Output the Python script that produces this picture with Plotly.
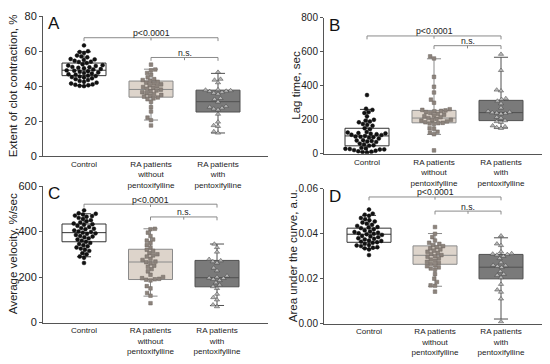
import numpy as np
import plotly.graph_objects as go

# page is 550x364; the browser body has an 8px margin, so the figure is drawn
# at (8, 8) and sized to fill the rest of the window
OFF = 8
W, H = 550 - OFF, 364 - OFF

categories = ["Control", "RA patients<br>without<br>pentoxifylline", "RA patients<br>with<br>pentoxifylline"]

# ---------------- Panel A: Extent of clot contraction, %
a_control = [63.3, 60.0, 59.5, 59.0, 57.5, 57.0, 56.5, 55.5, 55.0, 55.3, 54.5, 54.0, 53.8, 53.2,
             52.5, 52.0, 51.8, 51.5, 51.0, 50.8, 50.5, 50.2, 49.8, 49.5, 49.0, 48.8, 48.5, 48.2,
             47.8, 47.5, 47.2, 46.8, 46.5, 46.0, 45.8, 45.5, 45.2, 45.0, 44.5, 44.0, 43.5, 43.0,
             42.5, 42.0, 41.5, 41.0, 40.8, 40.5, 40.2, 40.0]
a_without = [52.3, 49.5, 49.0, 47.5, 46.5, 45.0, 44.0, 43.5, 43.0, 42.5, 42.0, 41.5, 41.0, 40.5,
             40.0, 39.5, 39.0, 38.5, 38.0, 37.5, 37.0, 36.5, 36.0, 35.5, 35.0, 34.5, 34.0, 33.5,
             33.0, 32.5, 31.0, 28.0, 25.5, 22.0, 20.5, 17.5]
a_with = [48.0, 44.0, 43.5, 42.0, 38.0, 37.8, 37.5, 37.2, 37.0, 36.5, 36.0, 35.5, 33.0, 32.5,
          31.0, 28.5, 28.0, 27.5, 27.0, 26.5, 24.0, 19.5, 17.5, 17.0, 14.0, 13.2]
a_q1 = [46.0, 33.7, 25.2]
a_median = [49.1, 38.1, 31.1]
a_q3 = [53.2, 42.9, 37.7]
a_low = [40.3, 20.6, 13.2]
a_high = [59.6, 49.7, 47.3]
a_brackets = [67.7, 56.4]

# ---------------- Panel B: Lag time, sec
b_control = [345, 265, 258, 245, 240, 220, 200, 195, 190, 185, 175, 170, 165, 150, 145, 128, 125,
             122, 120, 118, 115, 112, 110, 105, 102, 100, 98, 95, 90, 80, 78, 75, 72, 70, 60, 55,
             50, 48, 35, 32, 30, 28, 26, 25, 22, 18, 15, 12, 10, 8]
b_without = [572, 560, 452, 394, 360, 318, 300, 262, 258, 255, 252, 250, 245, 240, 235, 230, 225,
             220, 215, 210, 205, 200, 198, 195, 190, 185, 182, 180, 178, 175, 150, 148, 130, 125,
             115, 20]
b_with = [585, 490, 375, 370, 325, 320, 310, 295, 270, 250, 245, 242, 240, 238, 235, 215, 210,
          195, 190, 185, 165, 160, 155, 150]
b_q1 = [47, 182, 195]
b_median = [105, 210, 242]
b_q3 = [150, 255, 314]
b_low = [10, 114, 151]
b_high = [261, 558, 567]
b_brackets = [692, 635]

# ---------------- Panel C: Average velocity, %/sec
c_control = [493, 480, 478, 475, 470, 468, 465, 460, 455, 450, 445, 440, 435, 432, 430, 425, 420,
             415, 412, 410, 405, 400, 398, 395, 392, 390, 385, 380, 378, 375, 370, 365, 360, 355,
             350, 345, 340, 335, 330, 325, 320, 315, 305, 300, 290, 285, 262]
c_without = [412, 410, 395, 380, 365, 360, 350, 340, 330, 320, 315, 305, 300, 295, 290, 280, 275,
             268, 265, 260, 250, 245, 235, 225, 210, 200, 195, 192, 190, 188, 185, 160, 150, 130,
             118, 85]
c_with = [345, 330, 310, 278, 272, 268, 262, 240, 228, 205, 200, 196, 194, 190, 185, 175, 165, 158,
          150, 125, 110, 100, 78, 70]
c_q1 = [355, 189, 157]
c_median = [395, 266, 197]
c_q3 = [433, 322, 273]
c_low = [289, 116, 75]
c_high = [478, 412, 345]
c_brackets = [520, 464]

# ---------------- Panel D: Area under the curve, a.u.
d_control = [0.0508, 0.049, 0.0485, 0.048, 0.047, 0.0465, 0.046, 0.0455, 0.045, 0.0445, 0.044,
             0.0435, 0.043, 0.0428, 0.0425, 0.042, 0.0415, 0.041, 0.0408, 0.0405, 0.0402, 0.040,
             0.0398, 0.0395, 0.039, 0.0388, 0.0385, 0.038, 0.0378, 0.0375, 0.037, 0.0368, 0.0365,
             0.0362, 0.036, 0.0355, 0.035, 0.0348, 0.0345, 0.034, 0.0338, 0.0335, 0.033, 0.0305]
d_without = [0.043, 0.040, 0.0385, 0.037, 0.036, 0.0355, 0.035, 0.0345, 0.034, 0.0335, 0.033,
             0.0325, 0.032, 0.0315, 0.031, 0.0305, 0.030, 0.0298, 0.029, 0.0285, 0.028, 0.0275,
             0.027, 0.0265, 0.026, 0.0255, 0.025, 0.0245, 0.024, 0.022, 0.020, 0.0185, 0.017,
             0.0168, 0.0142]
d_with = [0.0391, 0.0355, 0.0348, 0.032, 0.0312, 0.031, 0.0308, 0.0305, 0.030, 0.029, 0.0272,
          0.026, 0.0258, 0.0255, 0.025, 0.0232, 0.022, 0.0215, 0.0205, 0.0175, 0.015, 0.014,
          0.011, 0.0008]
d_q1 = [0.0362, 0.0264, 0.0199]
d_median = [0.0398, 0.0304, 0.0251]
d_q3 = [0.0425, 0.0346, 0.0308]
d_low = [0.0335, 0.0166, 0.0020]
d_high = [0.0482, 0.0401, 0.0382]
d_brackets = [0.0564, 0.0501]

panels = [
    dict(name="A", title="Extent of clot contraction, %", groups=[a_control, a_without, a_with],
         q1=a_q1, med=a_median, q3=a_q3, lo=a_low, hi=a_high, br=a_brackets,
         ymax=80, ticks=[0, 20, 40, 60, 80], fmt="", tfs=11,
         px=(43, 268), py=(10.3, 155), cats=(84, 218), title_x=13),
    dict(name="B", title="Lag time, sec", groups=[b_control, b_without, b_with],
         q1=b_q1, med=b_median, q3=b_q3, lo=b_low, hi=b_high, br=b_brackets,
         ymax=800, ticks=[0, 200, 400, 600, 800], fmt="", tfs=10,
         px=(324, 542), py=(11.7, 152.7), cats=(367, 501), title_x=296),
    dict(name="C", title="Average velocity, %/sec", groups=[c_control, c_without, c_with],
         q1=c_q1, med=c_median, q3=c_q3, lo=c_low, hi=c_high, br=c_brackets,
         ymax=600, ticks=[0, 200, 400, 600], fmt="", tfs=11,
         px=(43, 268), py=(186, 327.3), cats=(84, 217), title_x=13),
    dict(name="D", title="Area under the curve, a.u.", groups=[d_control, d_without, d_with],
         q1=d_q1, med=d_median, q3=d_q3, lo=d_low, hi=d_high, br=d_brackets,
         ymax=0.06, ticks=[0, 0.02, 0.04, 0.06], fmt=".2f", tfs=10,
         px=(324, 542), py=(189, 328.3), cats=(369, 501), title_x=293),
]

box_fill = ["#ffffff", "#ddd4cb", "#7a7a7a"]
box_line = ["#333333", "#8a8a8a", "#505050"]
mk_color = ["#111111", "#8c837c", "#b8b8b8"]
mk_line = ["#111111", "#6e6660", "#404040"]
mk_symbol = ["circle", "square", "triangle-up"]
mk_size = [3.9, 3.6, 4.6]

FONT = "Arial, Liberation Sans, sans-serif"


def swarm(vals, ky, d):
    vals = np.asarray(vals, float)
    order = np.argsort(vals)
    placed = []
    offs = np.zeros(len(vals))
    for i in order:
        y = vals[i] * ky
        near = [(px, py) for px, py in placed if abs(py - y) < d]
        cands = [0.0]
        for px, py in near:
            dx = np.sqrt(max(d * d - (py - y) ** 2, 0))
            cands += [px + dx, px - dx]
        cands.sort(key=lambda c: (round(abs(c), 6), c))
        for c in cands:
            if all((c - px) ** 2 + (y - py) ** 2 >= d * d - 1e-6 for px, py in near):
                offs[i] = c
                placed.append((c, y))
                break
    return offs


fig = go.Figure()
layout = dict(width=W, height=H, margin=dict(l=0, r=0, t=0, b=0),
              paper_bgcolor="white", plot_bgcolor="white", showlegend=False,
              font=dict(family=FONT, color="#222222"))
annotations = []
shapes = []

for k, p in enumerate(panels):
    n = k + 1
    xa = "x" if n == 1 else f"x{n}"
    ya = "y" if n == 1 else f"y{n}"
    kx = (p["cats"][1] - p["cats"][0]) / 2.0  # px per category unit
    x0 = (p["px"][0] - p["cats"][0]) / kx
    x1 = (p["px"][1] - p["cats"][0]) / kx
    ky = (p["py"][1] - p["py"][0]) / p["ymax"]  # px per y unit
    bw = 44 / kx

    for g in range(3):
        fig.add_trace(go.Box(
            x=[g], q1=[p["q1"][g]], median=[p["med"][g]], q3=[p["q3"][g]],
            lowerfence=[p["lo"][g]], upperfence=[p["hi"][g]],
            width=bw, whiskerwidth=0.32, boxpoints=False,
            fillcolor=box_fill[g], line=dict(color=box_line[g], width=1),
            xaxis=xa, yaxis=ya, hoverinfo="skip"))
    for g in range(3):
        vals = p["groups"][g]
        offs = swarm(vals, ky, 4.4)
        fig.add_trace(go.Scatter(
            x=[g + o / kx for o in offs], y=vals, mode="markers",
            marker=dict(symbol=mk_symbol[g], size=mk_size[g], color=mk_color[g],
                        line=dict(color=mk_line[g], width=0.5)),
            xaxis=xa, yaxis=ya, hoverinfo="skip"))

    dom_x = [(p["px"][0] - OFF) / W, (p["px"][1] - OFF) / W]
    dom_y = [1 - (p["py"][1] - OFF) / H, 1 - (p["py"][0] - OFF) / H]
    xkey = "xaxis" if n == 1 else f"xaxis{n}"
    ykey = "yaxis" if n == 1 else f"yaxis{n}"
    layout[xkey] = dict(domain=dom_x, range=[x0, x1], anchor=ya, showgrid=False,
                        zeroline=False, showline=True, linecolor="#555555", linewidth=1,
                        ticks="", tickvals=[0, 1, 2], ticktext=categories,
                        tickfont=dict(size=8.1, color="#222222"))
    layout[ykey] = dict(domain=dom_y, range=[0, p["ymax"]], anchor=xa, showgrid=False,
                        zeroline=False, showline=True, linecolor="#555555", linewidth=1,
                        ticks="outside", ticklen=3, tickcolor="#555555",
                        tickvals=p["ticks"], tickformat=p["fmt"],
                        tickfont=dict(size=p["tfs"], color="#222222"))

    # significance brackets
    drop = 3.5 / ky
    pairs = [(0, 2, "p<0.0001"), (1, 2, "n.s.")]
    for (ga, gb, lab), yb in zip(pairs, p["br"]):
        xr = xa
        yr = ya
        shapes.append(dict(type="line", xref=xr, yref=yr, x0=ga, x1=gb, y0=yb, y1=yb,
                           line=dict(color="#8a8a8a", width=1)))
        for gx in (ga, gb):
            shapes.append(dict(type="line", xref=xr, yref=yr, x0=gx, x1=gx, y0=yb, y1=yb - drop,
                               line=dict(color="#8a8a8a", width=1)))
        xc = (ga + gb) / 2
        shapes.append(dict(type="line", xref=xr, yref=yr, x0=xc, x1=xc, y0=yb, y1=yb - drop * 0.8,
                           line=dict(color="#8a8a8a", width=1)))
        annotations.append(dict(xref=xr, yref=yr, x=xc, y=yb, text=lab, showarrow=False,
                                yanchor="bottom", yshift=-2.5,
                                font=dict(size=8.7, color="#222222")))

    # panel letter
    annotations.append(dict(xref="paper", yref="paper", x=(p["px"][0] + 3 - OFF) / W,
                            y=1 - (p["py"][0] - 4 - OFF) / H, text=p["name"], showarrow=False,
                            xanchor="left", yanchor="top", font=dict(size=17, color="#111111")))
    # axis title
    annotations.append(dict(xref="paper", yref="paper", x=(p["title_x"] - OFF) / W,
                            y=1 - ((p["py"][0] + p["py"][1]) / 2 - OFF) / H, text=p["title"],
                            showarrow=False, textangle=-90, xanchor="center", yanchor="middle",
                            font=dict(size=11.5, color="#222222")))

layout["annotations"] = annotations
layout["shapes"] = shapes
fig.update_layout(**layout)
fig.write_html("out.html")
